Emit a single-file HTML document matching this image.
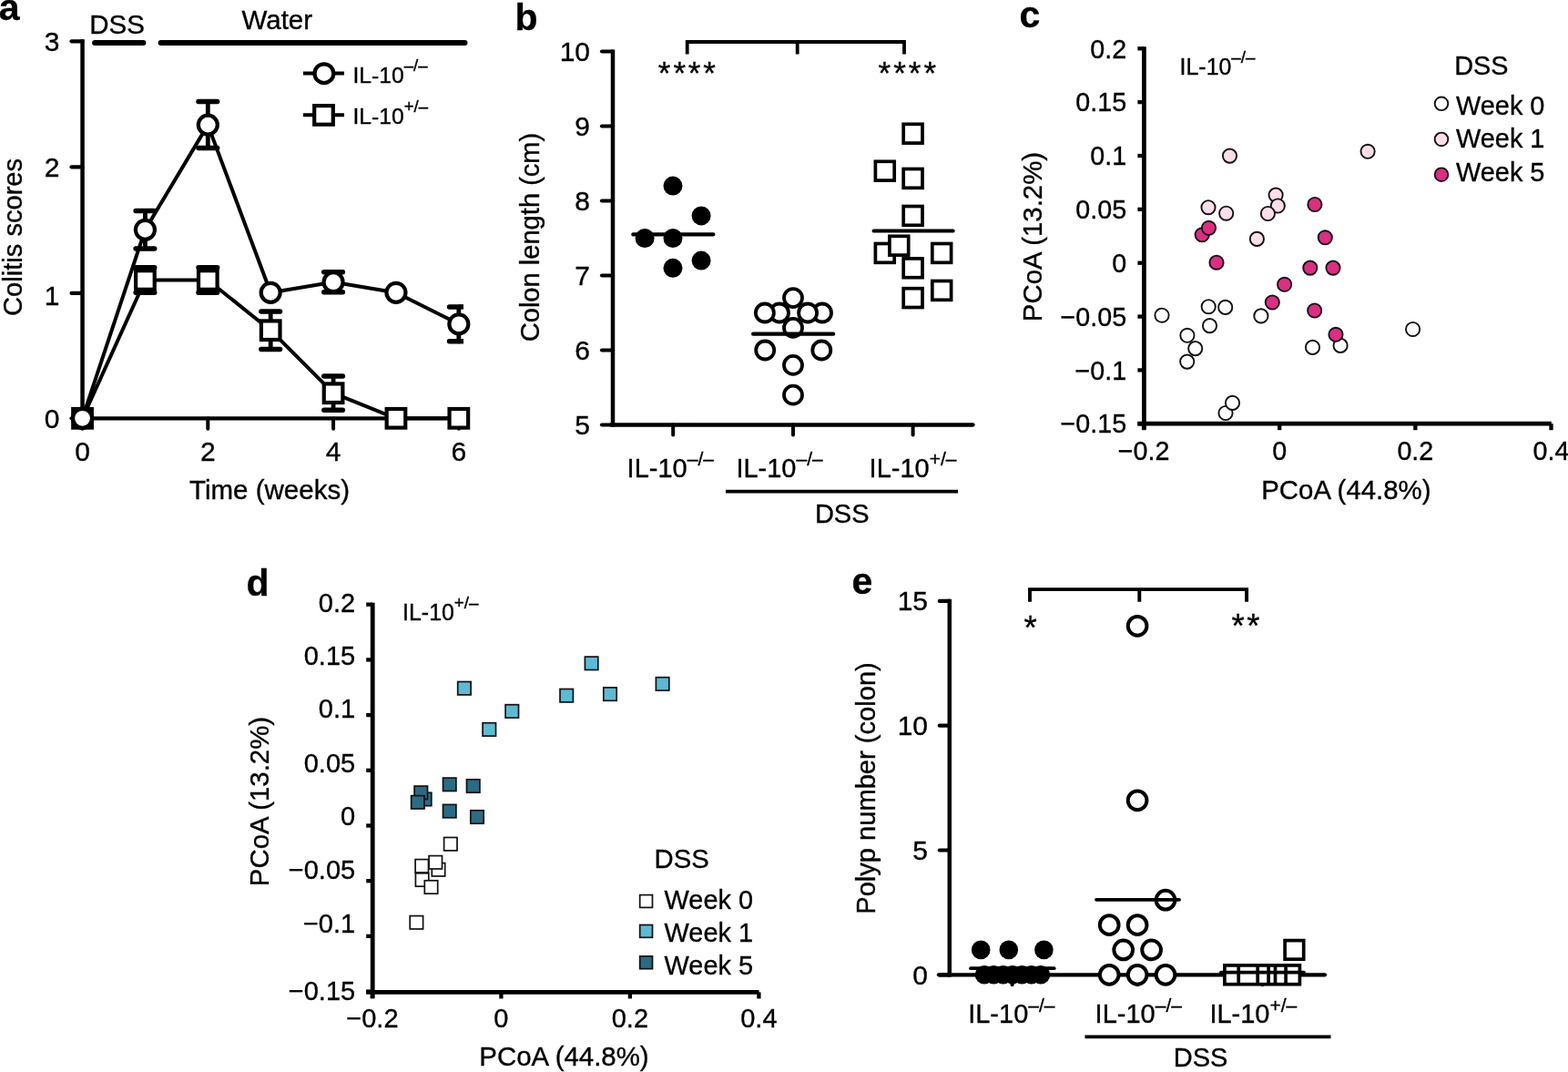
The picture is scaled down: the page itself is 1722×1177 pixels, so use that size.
<!DOCTYPE html>
<html lang="en">
<head>
<meta charset="utf-8">
<title>Figure: IL-10 DSS colitis, colon length, PCoA and polyp number</title>
<style>
html,body{margin:0;padding:0;background:#fff;}
body{width:1722px;height:1177px;overflow:hidden;}
svg{display:block;font-family:"Liberation Sans", sans-serif;fill:#000;}
text{stroke:#000;stroke-width:0.35px;}
</style>
</head>
<body>
<svg width="1722" height="1177" viewBox="0 0 1722 1177">
<rect width="1722" height="1177" fill="#fff"/>
<g id="panel-a">
<text x="-1.2" y="22.4" font-size="41" font-weight="bold">a</text>
<line x1="90.55" y1="43.2" x2="90.55" y2="459.3" stroke="#000" stroke-width="4.5"/>
<line x1="90.55" y1="459.3" x2="503.83" y2="459.3" stroke="#000" stroke-width="4.3"/>
<line x1="78.55" y1="459.3" x2="90.55" y2="459.3" stroke="#000" stroke-width="4.2" stroke-linecap="round"/>
<text x="65.5" y="469.7" font-size="30" text-anchor="end">0</text>
<line x1="78.55" y1="321.9" x2="90.55" y2="321.9" stroke="#000" stroke-width="4.2" stroke-linecap="round"/>
<text x="65.5" y="334.5" font-size="30" text-anchor="end">1</text>
<line x1="78.55" y1="183.3" x2="90.55" y2="183.3" stroke="#000" stroke-width="4.2" stroke-linecap="round"/>
<text x="65.5" y="193.7" font-size="30" text-anchor="end">2</text>
<line x1="78.55" y1="45.3" x2="90.55" y2="45.3" stroke="#000" stroke-width="4.2" stroke-linecap="round"/>
<text x="65.5" y="55.7" font-size="30" text-anchor="end">3</text>
<line x1="90.55" y1="459.3" x2="90.55" y2="470.8" stroke="#000" stroke-width="4" stroke-linecap="round"/>
<text x="90.55" y="506" font-size="30" text-anchor="middle">0</text>
<line x1="228.31" y1="459.3" x2="228.31" y2="470.8" stroke="#000" stroke-width="4" stroke-linecap="round"/>
<text x="228.31" y="506" font-size="30" text-anchor="middle">2</text>
<line x1="366.07" y1="459.3" x2="366.07" y2="470.8" stroke="#000" stroke-width="4" stroke-linecap="round"/>
<text x="366.07" y="506" font-size="30" text-anchor="middle">4</text>
<line x1="503.83" y1="459.3" x2="503.83" y2="470.8" stroke="#000" stroke-width="4" stroke-linecap="round"/>
<text x="503.83" y="506" font-size="30" text-anchor="middle">6</text>
<text x="296" y="548" font-size="29.5" text-anchor="middle">Time (weeks)</text>
<text transform="translate(23.7 260.4) rotate(-90)" font-size="29.1" text-anchor="middle">Colitis scores</text>
<line x1="104.1" y1="47.1" x2="157.4" y2="47.1" stroke="#000" stroke-width="6" stroke-linecap="round"/>
<line x1="176.6" y1="47.1" x2="510.5" y2="47.1" stroke="#000" stroke-width="6" stroke-linecap="round"/>
<text x="128.6" y="37.2" font-size="29.5" text-anchor="middle">DSS</text>
<text x="304.3" y="32" font-size="29.5" text-anchor="middle">Water</text>
<line x1="333" y1="80.6" x2="378" y2="80.6" stroke="#000" stroke-width="4"/>
<circle cx="355.9" cy="80.7" r="10.4" fill="#fff" stroke="#000" stroke-width="4.2"/>
<text x="387.4" y="90.7" font-size="24.7">IL-10<tspan dy="-12.6" font-size="18.6">–/–</tspan></text>
<line x1="333" y1="126.3" x2="378" y2="126.3" stroke="#000" stroke-width="4"/>
<rect x="345.20" y="116.10" width="20.6" height="20.6" fill="#fff" stroke="#000" stroke-width="4.2"/>
<text x="387.4" y="135.9" font-size="24.7">IL-10<tspan dy="-12.6" font-size="18.6">+/–</tspan></text>
<polyline points="90.5,459.3 159.4,307.5 228.3,307.5 297.2,362.7 366.1,431.7 434.9,459.3 503.8,459.3" fill="none" stroke="#000" stroke-width="4" stroke-linejoin="round"/>
<line x1="159.43" y1="293.7" x2="159.43" y2="321.3" stroke="#000" stroke-width="4.8"/>
<line x1="149.13" y1="293.7" x2="169.73" y2="293.7" stroke="#000" stroke-width="5.5" stroke-linecap="round"/>
<line x1="149.13" y1="321.3" x2="169.73" y2="321.3" stroke="#000" stroke-width="5.5" stroke-linecap="round"/>
<line x1="228.31" y1="293.7" x2="228.31" y2="321.3" stroke="#000" stroke-width="4.8"/>
<line x1="218.01" y1="293.7" x2="238.61" y2="293.7" stroke="#000" stroke-width="5.5" stroke-linecap="round"/>
<line x1="218.01" y1="321.3" x2="238.61" y2="321.3" stroke="#000" stroke-width="5.5" stroke-linecap="round"/>
<line x1="297.19" y1="342" x2="297.19" y2="383.4" stroke="#000" stroke-width="4.8"/>
<line x1="286.89" y1="342" x2="307.49" y2="342" stroke="#000" stroke-width="5.5" stroke-linecap="round"/>
<line x1="286.89" y1="383.4" x2="307.49" y2="383.4" stroke="#000" stroke-width="5.5" stroke-linecap="round"/>
<line x1="366.07" y1="413.07" x2="366.07" y2="450.33" stroke="#000" stroke-width="4.8"/>
<line x1="355.77" y1="413.07" x2="376.37" y2="413.07" stroke="#000" stroke-width="5.5" stroke-linecap="round"/>
<line x1="355.77" y1="450.33" x2="376.37" y2="450.33" stroke="#000" stroke-width="5.5" stroke-linecap="round"/>
<rect x="80.25" y="449.00" width="20.6" height="20.6" fill="#fff" stroke="#000" stroke-width="4.2"/>
<rect x="149.13" y="297.20" width="20.6" height="20.6" fill="#fff" stroke="#000" stroke-width="4.2"/>
<rect x="218.01" y="297.20" width="20.6" height="20.6" fill="#fff" stroke="#000" stroke-width="4.2"/>
<rect x="286.89" y="352.40" width="20.6" height="20.6" fill="#fff" stroke="#000" stroke-width="4.2"/>
<rect x="355.77" y="421.40" width="20.6" height="20.6" fill="#fff" stroke="#000" stroke-width="4.2"/>
<rect x="424.65" y="449.00" width="20.6" height="20.6" fill="#fff" stroke="#000" stroke-width="4.2"/>
<rect x="493.53" y="449.00" width="20.6" height="20.6" fill="#fff" stroke="#000" stroke-width="4.2"/>
<polyline points="90.5,459.3 159.4,252.3 228.3,137.1 297.2,321.3 366.1,309.7 434.9,321.3 503.8,355.8" fill="none" stroke="#000" stroke-width="4" stroke-linejoin="round"/>
<line x1="159.43" y1="231.6" x2="159.43" y2="273" stroke="#000" stroke-width="4.8"/>
<line x1="149.13" y1="231.6" x2="169.73" y2="231.6" stroke="#000" stroke-width="5.5" stroke-linecap="round"/>
<line x1="149.13" y1="273" x2="169.73" y2="273" stroke="#000" stroke-width="5.5" stroke-linecap="round"/>
<line x1="228.31" y1="111.54" x2="228.31" y2="162.6" stroke="#000" stroke-width="4.8"/>
<line x1="218.01" y1="111.54" x2="238.61" y2="111.54" stroke="#000" stroke-width="5.5" stroke-linecap="round"/>
<line x1="218.01" y1="162.6" x2="238.61" y2="162.6" stroke="#000" stroke-width="5.5" stroke-linecap="round"/>
<line x1="366.07" y1="298.67" x2="366.07" y2="320.75" stroke="#000" stroke-width="4.8"/>
<line x1="355.77" y1="298.67" x2="376.37" y2="298.67" stroke="#000" stroke-width="5.5" stroke-linecap="round"/>
<line x1="355.77" y1="320.75" x2="376.37" y2="320.75" stroke="#000" stroke-width="5.5" stroke-linecap="round"/>
<line x1="503.83" y1="336.89" x2="503.83" y2="374.71" stroke="#000" stroke-width="4.8"/>
<line x1="493.53" y1="336.89" x2="503.83" y2="336.89" stroke="#000" stroke-width="5.5" stroke-linecap="round"/>
<line x1="503.83" y1="336.89" x2="509" y2="336.89" stroke="#000" stroke-width="5.5"/>
<line x1="493.53" y1="374.71" x2="503.83" y2="374.71" stroke="#000" stroke-width="5.5" stroke-linecap="round"/>
<line x1="503.83" y1="374.71" x2="509" y2="374.71" stroke="#000" stroke-width="5.5"/>
<circle cx="90.55" cy="459.3" r="10.5" fill="#fff" stroke="#000" stroke-width="4.2"/>
<circle cx="159.43" cy="252.3" r="10.5" fill="#fff" stroke="#000" stroke-width="4.2"/>
<circle cx="228.31" cy="137.07" r="10.5" fill="#fff" stroke="#000" stroke-width="4.2"/>
<circle cx="297.19" cy="321.3" r="10.5" fill="#fff" stroke="#000" stroke-width="4.2"/>
<circle cx="366.07" cy="309.71" r="10.5" fill="#fff" stroke="#000" stroke-width="4.2"/>
<circle cx="434.95" cy="321.3" r="10.5" fill="#fff" stroke="#000" stroke-width="4.2"/>
<circle cx="503.83" cy="355.8" r="10.5" fill="#fff" stroke="#000" stroke-width="4.2"/>
</g>
<g id="panel-b">
<text x="565.5" y="32.5" font-size="41" font-weight="bold">b</text>
<line x1="673" y1="54.4" x2="673" y2="468.6" stroke="#000" stroke-width="4.5"/>
<line x1="671" y1="466.5" x2="1068.5" y2="466.5" stroke="#000" stroke-width="4.3" stroke-linecap="round"/>
<line x1="661" y1="466.5" x2="673" y2="466.5" stroke="#000" stroke-width="4.2" stroke-linecap="round"/>
<text x="648" y="476.9" font-size="30" text-anchor="end">5</text>
<line x1="661" y1="384.5" x2="673" y2="384.5" stroke="#000" stroke-width="4.2" stroke-linecap="round"/>
<text x="648" y="394.9" font-size="30" text-anchor="end">6</text>
<line x1="661" y1="302.5" x2="673" y2="302.5" stroke="#000" stroke-width="4.2" stroke-linecap="round"/>
<text x="648" y="312.9" font-size="30" text-anchor="end">7</text>
<line x1="661" y1="220.5" x2="673" y2="220.5" stroke="#000" stroke-width="4.2" stroke-linecap="round"/>
<text x="648" y="230.9" font-size="30" text-anchor="end">8</text>
<line x1="661" y1="138.5" x2="673" y2="138.5" stroke="#000" stroke-width="4.2" stroke-linecap="round"/>
<text x="648" y="148.9" font-size="30" text-anchor="end">9</text>
<line x1="661" y1="56.5" x2="673" y2="56.5" stroke="#000" stroke-width="4.2" stroke-linecap="round"/>
<text x="648" y="66.9" font-size="30" text-anchor="end">10</text>
<line x1="739.2" y1="466.5" x2="739.2" y2="477.5" stroke="#000" stroke-width="4" stroke-linecap="round"/>
<line x1="871" y1="466.5" x2="871" y2="477.5" stroke="#000" stroke-width="4" stroke-linecap="round"/>
<line x1="1002.6" y1="466.5" x2="1002.6" y2="477.5" stroke="#000" stroke-width="4" stroke-linecap="round"/>
<text transform="translate(591.8 260.5) rotate(-90)" font-size="29.1" text-anchor="middle">Colon length (cm)</text>
<path d="M754.7 59.6V46H993V59.6M875.7 46V59.6" fill="none" stroke="#000" stroke-width="3.8"/>
<text x="729.6 746.2 762.6 779.0" y="92.4" font-size="35" text-anchor="middle">****</text>
<text x="971.4 988.0 1004.6 1021.2" y="92.4" font-size="35" text-anchor="middle">****</text>
<circle cx="739" cy="204.1" r="10.5" fill="#000"/>
<circle cx="770.1" cy="236.9" r="10.5" fill="#000"/>
<circle cx="708.1" cy="261.5" r="10.5" fill="#000"/>
<circle cx="739" cy="261.5" r="10.5" fill="#000"/>
<circle cx="770.1" cy="286.1" r="10.5" fill="#000"/>
<circle cx="739" cy="294.3" r="10.5" fill="#000"/>
<line x1="695.3" y1="257.4" x2="783.3" y2="257.4" stroke="#000" stroke-width="4.2" stroke-linecap="round"/>
<circle cx="856" cy="343.5" r="10.0" fill="#fff" stroke="#000" stroke-width="3.8"/>
<circle cx="903" cy="343.5" r="10.0" fill="#fff" stroke="#000" stroke-width="3.8"/>
<circle cx="839.9" cy="343.5" r="10.0" fill="#fff" stroke="#000" stroke-width="3.8"/>
<circle cx="887.1" cy="343.5" r="10.0" fill="#fff" stroke="#000" stroke-width="3.8"/>
<circle cx="871" cy="327.1" r="10.0" fill="#fff" stroke="#000" stroke-width="3.8"/>
<circle cx="871" cy="359.9" r="10.0" fill="#fff" stroke="#000" stroke-width="3.8"/>
<circle cx="840.2" cy="384.5" r="10.0" fill="#fff" stroke="#000" stroke-width="3.8"/>
<circle cx="902.3" cy="384.5" r="10.0" fill="#fff" stroke="#000" stroke-width="3.8"/>
<circle cx="871" cy="400.9" r="10.0" fill="#fff" stroke="#000" stroke-width="3.8"/>
<circle cx="871" cy="433.7" r="10.0" fill="#fff" stroke="#000" stroke-width="3.8"/>
<line x1="827.1" y1="366.7" x2="915.2" y2="366.7" stroke="#000" stroke-width="4.2" stroke-linecap="round"/>
<rect x="992.20" y="136.30" width="20.8" height="20.8" fill="#fff" stroke="#000" stroke-width="3.7"/>
<rect x="961.40" y="177.30" width="20.8" height="20.8" fill="#fff" stroke="#000" stroke-width="3.7"/>
<rect x="992.20" y="185.50" width="20.8" height="20.8" fill="#fff" stroke="#000" stroke-width="3.7"/>
<rect x="992.20" y="226.50" width="20.8" height="20.8" fill="#fff" stroke="#000" stroke-width="3.7"/>
<rect x="961.40" y="267.50" width="20.8" height="20.8" fill="#fff" stroke="#000" stroke-width="3.7"/>
<rect x="976.90" y="259.30" width="20.8" height="20.8" fill="#fff" stroke="#000" stroke-width="3.7"/>
<rect x="1023.80" y="267.50" width="20.8" height="20.8" fill="#fff" stroke="#000" stroke-width="3.7"/>
<rect x="992.20" y="283.90" width="20.8" height="20.8" fill="#fff" stroke="#000" stroke-width="3.7"/>
<rect x="1023.80" y="308.50" width="20.8" height="20.8" fill="#fff" stroke="#000" stroke-width="3.7"/>
<rect x="992.20" y="316.70" width="20.8" height="20.8" fill="#fff" stroke="#000" stroke-width="3.7"/>
<line x1="959.7" y1="253.5" x2="1046.6" y2="253.5" stroke="#000" stroke-width="4.2" stroke-linecap="round"/>
<text x="688.6" y="523.7" font-size="29">IL-10<tspan dy="-12.4" font-size="21.0">–/–</tspan></text>
<text x="808.4" y="523.7" font-size="29">IL-10<tspan dy="-12.4" font-size="21.0">–/–</tspan></text>
<text x="954.6" y="523.7" font-size="29">IL-10<tspan dy="-12.4" font-size="21.0">+/–</tspan></text>
<line x1="797" y1="539.6" x2="1052" y2="539.6" stroke="#000" stroke-width="3.6"/>
<text x="924.7" y="574.1" font-size="29" text-anchor="middle">DSS</text>
</g>
<g id="panel-c">
<text x="1119.5" y="29.8" font-size="41" font-weight="bold">c</text>
<line x1="1256.4" y1="51.3" x2="1256.4" y2="471.7" stroke="#000" stroke-width="4.8"/>
<line x1="1249.4" y1="465.2" x2="1703.8" y2="465.2" stroke="#000" stroke-width="4.8"/>
<line x1="1249.4" y1="53.3" x2="1256.4" y2="53.3" stroke="#000" stroke-width="4.3"/>
<text x="1237.2" y="63.5" font-size="28.7" text-anchor="end">0.2</text>
<line x1="1249.4" y1="112.15" x2="1256.4" y2="112.15" stroke="#000" stroke-width="4.3"/>
<text x="1237.2" y="122.35" font-size="28.7" text-anchor="end">0.15</text>
<line x1="1249.4" y1="171" x2="1256.4" y2="171" stroke="#000" stroke-width="4.3"/>
<text x="1237.2" y="181.2" font-size="28.7" text-anchor="end">0.1</text>
<line x1="1249.4" y1="229.85" x2="1256.4" y2="229.85" stroke="#000" stroke-width="4.3"/>
<text x="1237.2" y="240.05" font-size="28.7" text-anchor="end">0.05</text>
<line x1="1249.4" y1="288.7" x2="1256.4" y2="288.7" stroke="#000" stroke-width="4.3"/>
<text x="1237.2" y="298.9" font-size="28.7" text-anchor="end">0</text>
<line x1="1249.4" y1="347.55" x2="1256.4" y2="347.55" stroke="#000" stroke-width="4.3"/>
<text x="1237.2" y="357.75" font-size="28.7" text-anchor="end">−0.05</text>
<line x1="1249.4" y1="406.4" x2="1256.4" y2="406.4" stroke="#000" stroke-width="4.3"/>
<text x="1237.2" y="416.6" font-size="28.7" text-anchor="end">−0.1</text>
<line x1="1249.4" y1="465.25" x2="1256.4" y2="465.25" stroke="#000" stroke-width="4.3"/>
<text x="1237.2" y="475.45" font-size="28.7" text-anchor="end">−0.15</text>
<line x1="1256.05" y1="465.2" x2="1256.05" y2="472.2" stroke="#000" stroke-width="4.3"/>
<text x="1256.05" y="505.2" font-size="28.7" text-anchor="middle">−0.2</text>
<line x1="1405.2" y1="465.2" x2="1405.2" y2="472.2" stroke="#000" stroke-width="4.3"/>
<text x="1405.2" y="505.2" font-size="28.7" text-anchor="middle">0</text>
<line x1="1554.35" y1="465.2" x2="1554.35" y2="472.2" stroke="#000" stroke-width="4.3"/>
<text x="1554.35" y="505.2" font-size="28.7" text-anchor="middle">0.2</text>
<line x1="1703.5" y1="465.2" x2="1703.5" y2="472.2" stroke="#000" stroke-width="4.3"/>
<text x="1703.5" y="505.2" font-size="28.7" text-anchor="middle">0.4</text>
<text x="1478.4" y="547.6" font-size="28.8" text-anchor="middle" textLength="186.3" lengthAdjust="spacingAndGlyphs">PCoA (44.8%)</text>
<text transform="translate(1144 260) rotate(-90)" font-size="28.8" text-anchor="middle" textLength="186.3" lengthAdjust="spacingAndGlyphs">PCoA (13.2%)</text>
<text x="1295.58" y="81.8" font-size="24.9">IL-10<tspan dy="-12.6" font-size="18.8">–/–</tspan></text>
<text x="1597.2" y="81.8" font-size="28.8">DSS</text>
<circle cx="1583" cy="113.8" r="7.3" fill="#ffffff" stroke="#111" stroke-width="1.9"/>
<text x="1599" y="126" font-size="28.9">Week 0</text>
<circle cx="1583" cy="152.9" r="7.3" fill="#fcdde9" stroke="#111" stroke-width="1.9"/>
<text x="1599" y="162.3" font-size="28.9">Week 1</text>
<circle cx="1583" cy="191.7" r="7.3" fill="#dd2d84" stroke="#111" stroke-width="1.9"/>
<text x="1599" y="199.1" font-size="28.9">Week 5</text>
<circle cx="1276" cy="346.2" r="7.6" fill="#ffffff" stroke="#111" stroke-width="1.9"/>
<circle cx="1327.2" cy="336.7" r="7.6" fill="#ffffff" stroke="#111" stroke-width="1.9"/>
<circle cx="1345.7" cy="337.4" r="7.6" fill="#ffffff" stroke="#111" stroke-width="1.9"/>
<circle cx="1328.5" cy="357.6" r="7.6" fill="#ffffff" stroke="#111" stroke-width="1.9"/>
<circle cx="1303.9" cy="368.3" r="7.6" fill="#ffffff" stroke="#111" stroke-width="1.9"/>
<circle cx="1312.7" cy="382.6" r="7.6" fill="#ffffff" stroke="#111" stroke-width="1.9"/>
<circle cx="1303.7" cy="397.1" r="7.6" fill="#ffffff" stroke="#111" stroke-width="1.9"/>
<circle cx="1384.9" cy="346.9" r="7.6" fill="#ffffff" stroke="#111" stroke-width="1.9"/>
<circle cx="1441.5" cy="381.4" r="7.6" fill="#ffffff" stroke="#111" stroke-width="1.9"/>
<circle cx="1472.1" cy="379.4" r="7.6" fill="#ffffff" stroke="#111" stroke-width="1.9"/>
<circle cx="1346" cy="453.5" r="7.6" fill="#ffffff" stroke="#111" stroke-width="1.9"/>
<circle cx="1353.5" cy="442.4" r="7.6" fill="#ffffff" stroke="#111" stroke-width="1.9"/>
<circle cx="1551.6" cy="361.5" r="7.6" fill="#ffffff" stroke="#111" stroke-width="1.9"/>
<circle cx="1350.5" cy="171.1" r="7.6" fill="#fcdde9" stroke="#111" stroke-width="1.9"/>
<circle cx="1401.1" cy="214.1" r="7.6" fill="#fcdde9" stroke="#111" stroke-width="1.9"/>
<circle cx="1403.3" cy="226" r="7.6" fill="#fcdde9" stroke="#111" stroke-width="1.9"/>
<circle cx="1392.4" cy="234.5" r="7.6" fill="#fcdde9" stroke="#111" stroke-width="1.9"/>
<circle cx="1327" cy="227.7" r="7.6" fill="#fcdde9" stroke="#111" stroke-width="1.9"/>
<circle cx="1346.7" cy="234.2" r="7.6" fill="#fcdde9" stroke="#111" stroke-width="1.9"/>
<circle cx="1380.4" cy="262.4" r="7.6" fill="#fcdde9" stroke="#111" stroke-width="1.9"/>
<circle cx="1502.1" cy="166.3" r="7.6" fill="#fcdde9" stroke="#111" stroke-width="1.9"/>
<circle cx="1320.2" cy="257.8" r="7.6" fill="#dd2d84" stroke="#111" stroke-width="1.9"/>
<circle cx="1327.5" cy="250.3" r="7.6" fill="#dd2d84" stroke="#111" stroke-width="1.9"/>
<circle cx="1336" cy="288.2" r="7.6" fill="#dd2d84" stroke="#111" stroke-width="1.9"/>
<circle cx="1443.9" cy="224.5" r="7.6" fill="#dd2d84" stroke="#111" stroke-width="1.9"/>
<circle cx="1455.3" cy="260.8" r="7.6" fill="#dd2d84" stroke="#111" stroke-width="1.9"/>
<circle cx="1438.8" cy="294.1" r="7.6" fill="#dd2d84" stroke="#111" stroke-width="1.9"/>
<circle cx="1464" cy="294.1" r="7.6" fill="#dd2d84" stroke="#111" stroke-width="1.9"/>
<circle cx="1410.6" cy="312.3" r="7.6" fill="#dd2d84" stroke="#111" stroke-width="1.9"/>
<circle cx="1397.3" cy="332" r="7.6" fill="#dd2d84" stroke="#111" stroke-width="1.9"/>
<circle cx="1443.7" cy="341" r="7.6" fill="#dd2d84" stroke="#111" stroke-width="1.9"/>
<circle cx="1467" cy="367.3" r="7.6" fill="#dd2d84" stroke="#111" stroke-width="1.9"/>
</g>
<g id="panel-d">
<text x="270.5" y="653.7" font-size="41" font-weight="bold">d</text>
<line x1="409.2" y1="661.7" x2="409.2" y2="1095.9" stroke="#000" stroke-width="4.8"/>
<line x1="402.2" y1="1089.4" x2="833.6" y2="1089.4" stroke="#000" stroke-width="4.8"/>
<line x1="402.2" y1="663.7" x2="409.2" y2="663.7" stroke="#000" stroke-width="4.3"/>
<text x="390.2" y="672.2" font-size="29" text-anchor="end">0.2</text>
<line x1="402.2" y1="724.4" x2="409.2" y2="724.4" stroke="#000" stroke-width="4.3"/>
<text x="390.2" y="729.7" font-size="29" text-anchor="end">0.15</text>
<line x1="402.2" y1="785.1" x2="409.2" y2="785.1" stroke="#000" stroke-width="4.3"/>
<text x="390.2" y="788.4" font-size="29" text-anchor="end">0.1</text>
<line x1="402.2" y1="845.8" x2="409.2" y2="845.8" stroke="#000" stroke-width="4.3"/>
<text x="390.2" y="847.5" font-size="29" text-anchor="end">0.05</text>
<line x1="402.2" y1="906.5" x2="409.2" y2="906.5" stroke="#000" stroke-width="4.3"/>
<text x="390.2" y="906.1" font-size="29" text-anchor="end">0</text>
<line x1="402.2" y1="967.2" x2="409.2" y2="967.2" stroke="#000" stroke-width="4.3"/>
<text x="390.2" y="965.2" font-size="29" text-anchor="end">−0.05</text>
<line x1="402.2" y1="1027.9" x2="409.2" y2="1027.9" stroke="#000" stroke-width="4.3"/>
<text x="390.2" y="1023.7" font-size="29" text-anchor="end">−0.1</text>
<line x1="402.2" y1="1088.6" x2="409.2" y2="1088.6" stroke="#000" stroke-width="4.3"/>
<text x="390.2" y="1098.1" font-size="29" text-anchor="end">−0.15</text>
<line x1="408.9" y1="1089.4" x2="408.9" y2="1096.4" stroke="#000" stroke-width="4.3"/>
<text x="408.9" y="1128" font-size="29" text-anchor="middle">−0.2</text>
<line x1="550.4" y1="1089.4" x2="550.4" y2="1096.4" stroke="#000" stroke-width="4.3"/>
<text x="550.4" y="1128" font-size="29" text-anchor="middle">0</text>
<line x1="691.9" y1="1089.4" x2="691.9" y2="1096.4" stroke="#000" stroke-width="4.3"/>
<text x="691.9" y="1128" font-size="29" text-anchor="middle">0.2</text>
<line x1="833.4" y1="1089.4" x2="833.4" y2="1096.4" stroke="#000" stroke-width="4.3"/>
<text x="833.4" y="1128" font-size="29" text-anchor="middle">0.4</text>
<text x="619.5" y="1169.8" font-size="29.5" text-anchor="middle" textLength="186.3" lengthAdjust="spacingAndGlyphs">PCoA (44.8%)</text>
<text transform="translate(295 880) rotate(-90)" font-size="29" text-anchor="middle" textLength="186.3" lengthAdjust="spacingAndGlyphs">PCoA (13.2%)</text>
<text x="442.08" y="681" font-size="24.9">IL-10<tspan dy="-12.6" font-size="18.8">+/–</tspan></text>
<text x="718.6" y="952.7" font-size="29.3">DSS</text>
<rect x="702.70" y="982.60" width="13.8" height="13.8" fill="#ffffff" stroke="#111" stroke-width="1.7"/>
<text x="729.6" y="997.5" font-size="28.9">Week 0</text>
<rect x="702.70" y="1015.50" width="13.8" height="13.8" fill="#5dbad3" stroke="#111" stroke-width="1.7"/>
<text x="729.6" y="1033.6" font-size="28.9">Week 1</text>
<rect x="702.70" y="1049.90" width="13.8" height="13.8" fill="#2a6c84" stroke="#111" stroke-width="1.7"/>
<text x="729.6" y="1070.2" font-size="28.9">Week 5</text>
<rect x="487.60" y="919.50" width="14.4" height="14.4" fill="#ffffff" stroke="#111" stroke-width="1.7"/>
<rect x="474.30" y="947.60" width="14.4" height="14.4" fill="#ffffff" stroke="#111" stroke-width="1.7"/>
<rect x="456.10" y="943.60" width="14.4" height="14.4" fill="#ffffff" stroke="#111" stroke-width="1.7"/>
<rect x="471.10" y="939.60" width="14.4" height="14.4" fill="#ffffff" stroke="#111" stroke-width="1.7"/>
<rect x="456.40" y="958.80" width="14.4" height="14.4" fill="#ffffff" stroke="#111" stroke-width="1.7"/>
<rect x="466.30" y="966.80" width="14.4" height="14.4" fill="#ffffff" stroke="#111" stroke-width="1.7"/>
<rect x="450.20" y="1005.60" width="14.4" height="14.4" fill="#ffffff" stroke="#111" stroke-width="1.7"/>
<rect x="502.70" y="748.50" width="14.4" height="14.4" fill="#5dbad3" stroke="#111" stroke-width="1.7"/>
<rect x="642.40" y="721.10" width="14.4" height="14.4" fill="#5dbad3" stroke="#111" stroke-width="1.7"/>
<rect x="720.40" y="743.70" width="14.4" height="14.4" fill="#5dbad3" stroke="#111" stroke-width="1.7"/>
<rect x="615.00" y="756.50" width="14.4" height="14.4" fill="#5dbad3" stroke="#111" stroke-width="1.7"/>
<rect x="662.80" y="754.90" width="14.4" height="14.4" fill="#5dbad3" stroke="#111" stroke-width="1.7"/>
<rect x="555.10" y="773.70" width="14.4" height="14.4" fill="#5dbad3" stroke="#111" stroke-width="1.7"/>
<rect x="530.10" y="793.70" width="14.4" height="14.4" fill="#5dbad3" stroke="#111" stroke-width="1.7"/>
<rect x="459.40" y="870.30" width="14.4" height="14.4" fill="#2a6c84" stroke="#111" stroke-width="1.7"/>
<rect x="455.10" y="863.10" width="14.4" height="14.4" fill="#2a6c84" stroke="#111" stroke-width="1.7"/>
<rect x="451.60" y="873.60" width="14.4" height="14.4" fill="#2a6c84" stroke="#111" stroke-width="1.7"/>
<rect x="486.50" y="854.10" width="14.4" height="14.4" fill="#2a6c84" stroke="#111" stroke-width="1.7"/>
<rect x="512.50" y="855.80" width="14.4" height="14.4" fill="#2a6c84" stroke="#111" stroke-width="1.7"/>
<rect x="486.50" y="883.40" width="14.4" height="14.4" fill="#2a6c84" stroke="#111" stroke-width="1.7"/>
<rect x="516.80" y="889.80" width="14.4" height="14.4" fill="#2a6c84" stroke="#111" stroke-width="1.7"/>
</g>
<g id="panel-e">
<text x="935.5" y="651.5" font-size="41" font-weight="bold">e</text>
<line x1="1042.8" y1="657.8" x2="1042.8" y2="1072.4" stroke="#000" stroke-width="4.5"/>
<line x1="1031" y1="1070.3" x2="1455" y2="1070.3" stroke="#000" stroke-width="4.3" stroke-linecap="round"/>
<line x1="1031.8" y1="1070.3" x2="1042.8" y2="1070.3" stroke="#000" stroke-width="4.2" stroke-linecap="round"/>
<text x="1019" y="1080.7" font-size="30" text-anchor="end">0</text>
<line x1="1031.8" y1="933.5" x2="1042.8" y2="933.5" stroke="#000" stroke-width="4.2" stroke-linecap="round"/>
<text x="1019" y="943.9" font-size="30" text-anchor="end">5</text>
<line x1="1031.8" y1="796.7" x2="1042.8" y2="796.7" stroke="#000" stroke-width="4.2" stroke-linecap="round"/>
<text x="1019" y="807.1" font-size="30" text-anchor="end">10</text>
<line x1="1031.8" y1="659.9" x2="1042.8" y2="659.9" stroke="#000" stroke-width="4.2" stroke-linecap="round"/>
<text x="1019" y="670.3" font-size="30" text-anchor="end">15</text>
<line x1="1111.6" y1="1070.3" x2="1111.6" y2="1081.3" stroke="#000" stroke-width="4" stroke-linecap="round"/>
<line x1="1249.1" y1="1070.3" x2="1249.1" y2="1081.3" stroke="#000" stroke-width="4" stroke-linecap="round"/>
<line x1="1386.3" y1="1070.3" x2="1386.3" y2="1081.3" stroke="#000" stroke-width="4" stroke-linecap="round"/>
<text transform="translate(960.9 865.5) rotate(-90)" font-size="29.1" text-anchor="middle">Polyp number (colon)</text>
<path d="M1131 660.8V647.1H1369.1V660.8M1251.3 647.1V660.8" fill="none" stroke="#000" stroke-width="3.9"/>
<text x="1131.5" y="701.8" font-size="36.5" text-anchor="middle">*</text>
<text x="1359.5 1376.4" y="699.8" font-size="36.5" text-anchor="middle">**</text>
<circle cx="1081" cy="1070.3" r="10.3" fill="#000"/>
<circle cx="1091.3" cy="1070.3" r="10.3" fill="#000"/>
<circle cx="1101.7" cy="1070.3" r="10.3" fill="#000"/>
<circle cx="1112" cy="1070.3" r="10.3" fill="#000"/>
<circle cx="1122.3" cy="1070.3" r="10.3" fill="#000"/>
<circle cx="1132.7" cy="1070.3" r="10.3" fill="#000"/>
<circle cx="1143" cy="1070.3" r="10.3" fill="#000"/>
<circle cx="1077.2" cy="1042.9" r="10.3" fill="#000"/>
<circle cx="1107.8" cy="1042.9" r="10.3" fill="#000"/>
<circle cx="1146.4" cy="1042.9" r="10.3" fill="#000"/>
<line x1="1066" y1="1063.2" x2="1157.7" y2="1063.2" stroke="#000" stroke-width="3.8" stroke-linecap="round"/>
<circle cx="1218.2" cy="1070.3" r="10.35" fill="#fff" stroke="#000" stroke-width="4.0"/>
<circle cx="1249.1" cy="1070.3" r="10.35" fill="#fff" stroke="#000" stroke-width="4.0"/>
<circle cx="1280" cy="1070.3" r="10.35" fill="#fff" stroke="#000" stroke-width="4.0"/>
<circle cx="1233.7" cy="1042.9" r="10.35" fill="#fff" stroke="#000" stroke-width="4.0"/>
<circle cx="1264.6" cy="1042.9" r="10.35" fill="#fff" stroke="#000" stroke-width="4.0"/>
<circle cx="1218.2" cy="1015.6" r="10.35" fill="#fff" stroke="#000" stroke-width="4.0"/>
<circle cx="1249.1" cy="1015.6" r="10.35" fill="#fff" stroke="#000" stroke-width="4.0"/>
<circle cx="1280" cy="988.2" r="10.35" fill="#fff" stroke="#000" stroke-width="4.0"/>
<circle cx="1249.1" cy="878.8" r="10.35" fill="#fff" stroke="#000" stroke-width="4.0"/>
<circle cx="1249.1" cy="687.3" r="10.35" fill="#fff" stroke="#000" stroke-width="4.0"/>
<line x1="1204" y1="987.8" x2="1295" y2="987.8" stroke="#000" stroke-width="3.8" stroke-linecap="round"/>
<rect x="1344.9" y="1059.9" width="82.5" height="20.8" fill="#fff" stroke="#000" stroke-width="3.7"/>
<line x1="1360.2" y1="1059.9" x2="1360.2" y2="1080.7" stroke="#000" stroke-width="3.7"/>
<line x1="1381.2" y1="1059.9" x2="1381.2" y2="1080.7" stroke="#000" stroke-width="3.7"/>
<line x1="1393.1" y1="1059.9" x2="1393.1" y2="1080.7" stroke="#000" stroke-width="3.7"/>
<line x1="1400.5" y1="1059.9" x2="1400.5" y2="1080.7" stroke="#000" stroke-width="3.7"/>
<line x1="1412.1" y1="1059.9" x2="1412.1" y2="1080.7" stroke="#000" stroke-width="3.7"/>
<rect x="1411.10" y="1032.60" width="20.6" height="20.6" fill="#fff" stroke="#000" stroke-width="3.7"/>
<line x1="1341" y1="1067.6" x2="1432" y2="1067.6" stroke="#000" stroke-width="3.8" stroke-linecap="round"/>
<text x="1063.2" y="1123" font-size="29">IL-10<tspan dy="-12.4" font-size="21.0">–/–</tspan></text>
<text x="1202.6" y="1123" font-size="29">IL-10<tspan dy="-12.4" font-size="21.0">–/–</tspan></text>
<text x="1328.4" y="1123" font-size="29">IL-10<tspan dy="-12.4" font-size="21.0">+/–</tspan></text>
<line x1="1191.5" y1="1138.4" x2="1461.5" y2="1138.4" stroke="#000" stroke-width="3.6"/>
<text x="1318.6" y="1171.3" font-size="29" text-anchor="middle">DSS</text>
</g>
</svg>
</body>
</html>
